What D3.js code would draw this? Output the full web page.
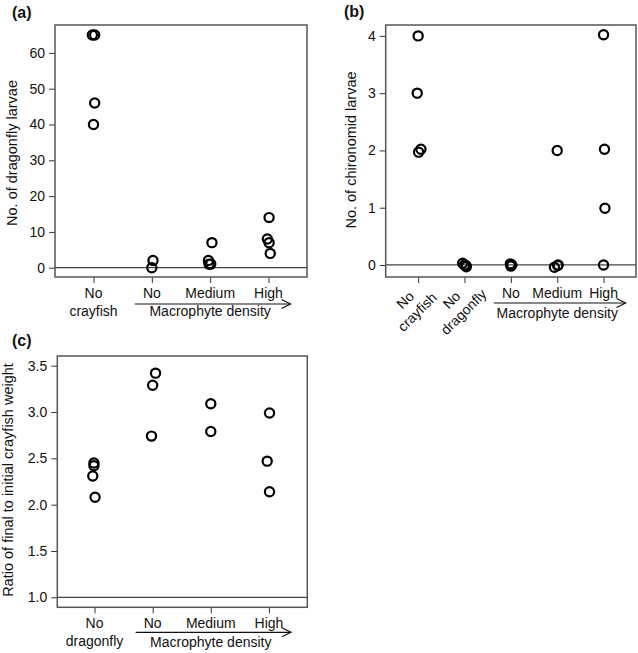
<!DOCTYPE html>
<html><head><meta charset="utf-8">
<script src="https://cdn.jsdelivr.net/npm/d3@7"></script>
<style>
body{margin:0;background:#fff;}
text{font-family:"Liberation Sans",Arial,Helvetica,sans-serif;fill:#111;}
</style></head>
<body>
<svg id="c" width="638" height="653"></svg>
<script>
// ---- Panel (a): dragonfly larvae ----
const catsA = ["No\ncrayfish", "No", "Medium", "High"];
const valsA = [[65, 65, 46, 40], [2, 0], [7, 2, 1, 1], [14, 8, 7, 4]];
const jitA  = [[-0.02, 0.02, 0.02, 0], [0.02, 0], [0.03, -0.03, -0.02, 0.01], [0.01, -0.02, 0.01, 0.03]];
const ticksA = [0, 10, 20, 30, 40, 50, 60];

// ---- Panel (b): chironomid larvae ----
const catsB = ["No\ncrayfish", "No\ndragonfly", "No", "Medium", "High"];
const valsB = [[4, 3, 2.02, 1.97], [0.03, -0.01, 0, -0.03], [0.02, 0, -0.02], [2, -0.04, 0, -0.01], [4.02, 2.02, 0.99, 0]];
const jitB  = [[0, -0.02, 0.06, 0.01], [-0.04, 0.03, 0, 0.04], [-0.01, 0.02, 0], [0, -0.06, 0.02, 0.01], [0, 0.02, 0.03, 0]];
const ticksB = [0, 1, 2, 3, 4];

// ---- Panel (c): crayfish weight ratio ----
const catsC = ["No\ndragonfly", "No", "Medium", "High"];
const valsC = [[2.45, 2.42, 2.31, 2.08], [3.42, 3.29, 2.74], [3.09, 2.79], [2.99, 2.47, 2.14]];
const jitC  = [[-0.01, -0.01, -0.03, 0.01], [0.05, 0, -0.02], [0, 0], [0.01, -0.03, 0.01]];
const ticksC = [1.0, 1.5, 2.0, 2.5, 3.0, 3.5];

const svg = d3.select("#c");
svg.append("rect").attr("width", 638).attr("height", 653).attr("fill", "#fff");

function panel(o) {
  const g = svg.append("g");
  const n = o.cats.length;
  const x = d3.scaleLinear().domain(o.xDom).range([o.x0, o.x1]);
  const y = d3.scaleLinear().domain(o.yDom).range([o.y1, o.y0]);

  // y axis
  const ya = g.append("g").attr("transform", `translate(${o.x0},0)`)
    .call(d3.axisLeft(y).tickValues(o.ticks).tickFormat(o.fmt).tickSize(6).tickPadding(4).tickSizeOuter(0));
  ya.select(".domain").remove();
  ya.selectAll(".tick line").attr("stroke", "#333");
  ya.selectAll(".tick text").attr("font-size", 14).attr("font-family", "Liberation Sans, Arial, sans-serif").attr("fill", "#111");

  // x axis ticks
  const xa = g.append("g").attr("transform", `translate(0,${o.y1})`)
    .call(d3.axisBottom(x).tickValues(d3.range(1, n + 1)).tickFormat("").tickSize(6).tickSizeOuter(0));
  xa.select(".domain").remove();
  xa.selectAll(".tick line").attr("stroke", "#333");

  // reference line
  g.append("line").attr("x1", o.x0).attr("x2", o.x1)
    .attr("y1", y(o.ref)).attr("y2", y(o.ref)).attr("stroke", "#444").attr("stroke-width", 1.2);

  // box
  g.append("rect").attr("x", o.x0).attr("y", o.y0).attr("width", o.x1 - o.x0).attr("height", o.y1 - o.y0)
    .attr("fill", "none").attr("stroke", "#555").attr("stroke-width", 1.5);

  // points
  const pts = [];
  o.vals.forEach((arr, i) => arr.forEach((v, j) => pts.push({ gx: i + 1 + o.jit[i][j], v })));
  g.selectAll("circle.pt").data(pts).join("circle").attr("class", "pt")
    .attr("cx", d => x(d.gx)).attr("cy", d => y(d.v)).attr("r", 4.6)
    .attr("fill", "none").attr("stroke", "#000").attr("stroke-width", 2.2);

  // x labels
  o.cats.forEach((c, i) => {
    const lines = c.split("\n");
    const cx = x(i + 1);
    if (o.rotated && lines.length > 1) {
      const t = g.append("g").attr("transform", `translate(${cx - 7},${o.y1 + 29}) rotate(-45)`);
      lines.forEach((l, k) => t.append("text").attr("x", 0).attr("y", (k - 0.5) * 17).attr("dy", "0.35em")
        .attr("text-anchor", "middle").attr("font-size", 14).text(l));
    } else {
      lines.forEach((l, k) => g.append("text").attr("x", cx).attr("y", o.y1 + 21 + k * 17.5)
        .attr("text-anchor", "middle").attr("font-size", 14).text(l));
    }
  });

  // macrophyte arrow + label
  const ax0 = x(o.arrFrom) - 17, ax1 = x(o.arrTo) + 22, ay = o.y1 + o.arrDy;
  g.append("line").attr("x1", ax0).attr("x2", ax1).attr("y1", ay).attr("y2", ay).attr("stroke", "#111").attr("stroke-width", 1.2);
  g.append("path").attr("d", `M${ax1 - 9},${ay - 4.5}L${ax1},${ay}L${ax1 - 9},${ay + 4.5}`)
    .attr("fill", "none").attr("stroke", "#111").attr("stroke-width", 1.2);
  g.append("text").attr("x", x(o.arrFrom + 1)).attr("y", o.y1 + o.mdDy).attr("text-anchor", "middle")
    .attr("font-size", 14).text("Macrophyte density");

  // y title
  g.append("text").attr("transform", `translate(${o.titleX},${o.titleY}) rotate(-90)`)
    .attr("text-anchor", "middle").attr("font-size", 14.5).text(o.title);

  // panel label
  g.append("text").attr("x", o.labX).attr("y", o.labY).attr("font-size", 16).attr("font-weight", "bold").text(o.lab);
}

panel({ cats: catsA, vals: valsA, jit: jitA, ticks: ticksA, fmt: d3.format("d"),
  x0: 55, x1: 307, y0: 25, y1: 277, xDom: [0.34, 4.66], yDom: [-2.6, 67.8], ref: 0,
  arrFrom: 2, arrTo: 4, arrDy: 27, mdDy: 39,
  title: "No. of dragonfly larvae", titleX: 16.5, titleY: 153, lab: "(a)", labX: 12, labY: 18 });

panel({ cats: catsB, vals: valsB, jit: jitB, ticks: ticksB, fmt: d3.format("d"), rotated: true,
  x0: 385.7, x1: 636, y0: 25, y1: 277, xDom: [0.3, 5.7], yDom: [-0.21, 4.19], ref: 0,
  arrFrom: 3, arrTo: 5, arrDy: 26, mdDy: 41,
  title: "No. of chironomid larvae", titleX: 356, titleY: 150, lab: "(b)", labX: 344, labY: 17 });

panel({ cats: catsC, vals: valsC, jit: jitC, ticks: ticksC, fmt: d3.format(".1f"),
  x0: 57.3, x1: 307.3, y0: 356, y1: 607.3, xDom: [0.36, 4.66], yDom: [0.892, 3.605], ref: 1,
  arrFrom: 2, arrTo: 4, arrDy: 25, mdDy: 40,
  title: "Ratio of final to initial crayfish weight", titleX: 13, titleY: 480, lab: "(c)", labX: 12, labY: 346 });
</script>
</body></html>
